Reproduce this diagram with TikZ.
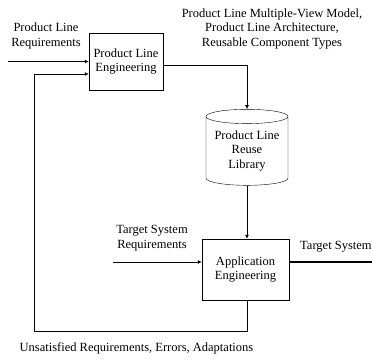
\documentclass[tikz,border=0pt]{standalone}
\usepackage{fontspec}
\setmainfont{Liberation Serif}
\usetikzlibrary{arrows.meta, shapes.geometric}

\begin{document}
\begin{tikzpicture}[x=1pt, y=-1pt,
    font=\fontsize{12.5}{14.5}\selectfont,
    block/.style={draw, rectangle, align=center, inner sep=0pt},
    store/.style={draw, cylinder, shape border rotate=90, aspect=0.22, align=center, inner sep=0pt},
    label/.style={align=center, inner sep=0pt},
    flow/.style={-{Latex[length=4pt, width=4pt]}, line width=0.7pt}]
  \useasboundingbox (0,0) rectangle (372,361);

  % the two engineering activities and the library
  \node[block, minimum width=74pt, minimum height=57pt] (ple) at (126,61.5) {Product Line\\Engineering};
  \node[store, minimum width=82pt, minimum height=76pt] (lib) at (247,151) {Product Line\\Reuse\\Library};
  \node[block, minimum width=87pt, minimum height=61pt] (ae) at (245.5,269.5) {Application\\Engineering};

  % free ends
  \coordinate (plreq) at (8,61.5);
  \coordinate (fb) at (34,331);
  \coordinate (tsreq) at (113,262);
  \coordinate (tsout) at (372,262);

  % labels
  \node[label] (plreqtext) at (46,36) {Product Line\\Requirements};
  \node[label] (libin) at (272,29) {Product Line Multiple-View Model,\\Product Line Architecture,\\Reusable Component Types};
  \node[label] (tsreqtext) at (152,238) {Target System\\Requirements};
  \node[label, anchor=west] (tsouttext) at (300,247) {Target System};
  \node[label] (fbtext) at (136.5,348) {Unsatisfied Requirements, Errors, Adaptations};

  % flows
  \draw[flow, line width=1.2pt] (plreq) -- (ple.west);
  \draw[flow] ([yshift=-3.5pt]ple.east) -| (lib.north);
  \draw[flow] (lib.south) -- (lib.south |- ae.north);
  \draw[flow] (tsreq) -- (tsreq -| ae.west);
  \draw[line width=1.2pt] ([yshift=7.5pt]ae.east) -- (tsout);
  \draw[flow] (ae.south -| lib.south) |- (fb) |- ([yshift=-12.5pt]ple.west);
\end{tikzpicture}
\end{document}
